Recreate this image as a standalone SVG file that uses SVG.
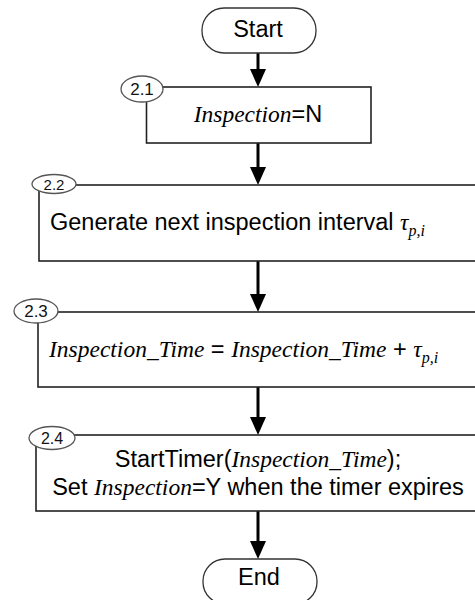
<svg xmlns="http://www.w3.org/2000/svg" width="475" height="600" viewBox="0 0 475 600">
<style>
.box{fill:#fff;stroke:#222;stroke-width:1.6}
.term{fill:#fff;stroke:#333;stroke-width:1.3}
.oval{fill:#fff;stroke:#555;stroke-width:1.3}
.sans{font-family:"Liberation Sans",Arial,sans-serif;font-size:23.5px;fill:#000}
.it{font-family:"Liberation Serif","Times New Roman",serif;font-style:italic;fill:#000}
.num{font-family:"Liberation Sans",Arial,sans-serif;fill:#111;text-anchor:middle}
.conn{stroke:#000;stroke-width:3;fill:none;marker-end:url(#ah)}
</style>
<defs>
<marker id="ah" viewBox="0 0 18 16" markerWidth="18" markerHeight="16" refX="8" refY="8" orient="auto" markerUnits="userSpaceOnUse">
<path d="M0,0 L18,8 L0,16 z" fill="#000"/>
</marker>
</defs>
<rect width="475" height="600" fill="#fff"/>
<g id="connectors">
<line class="conn" x1="258" y1="53" x2="258" y2="77"/>
<line class="conn" x1="258" y1="143" x2="258" y2="175"/>
<line class="conn" x1="258" y1="261" x2="258" y2="302"/>
<line class="conn" x1="258" y1="387" x2="258" y2="425"/>
<line class="conn" x1="258" y1="511" x2="258" y2="549"/>
</g>
<g id="start">
<rect class="term" x="202" y="8" width="114" height="45" rx="22" ry="22"/>
<text class="sans" x="258" y="37" text-anchor="middle">Start</text>
</g>
<g id="step21">
<rect class="box" x="146.5" y="87" width="224.5" height="56"/>
<ellipse class="oval" cx="142" cy="89" rx="21" ry="13"/>
<text class="num" x="142" y="95" font-size="17">2.1</text>
<text class="sans" x="258" y="122" text-anchor="middle"><tspan class="it">Inspection</tspan>=N</text>
</g>
<g id="step22">
<rect class="box" x="39" y="185" width="450" height="76"/>
<ellipse class="oval" cx="54" cy="184" rx="22" ry="9.5"/>
<text class="num" x="54" y="190" font-size="15">2.2</text>
<text class="sans" x="50" y="230">Generate next inspection interval <tspan class="it">τ</tspan><tspan class="it" font-size="16" dy="6">p,i</tspan></text>
</g>
<g id="step23">
<rect class="box" x="38" y="312" width="450" height="75"/>
<ellipse class="oval" cx="36" cy="311" rx="22" ry="12"/>
<text class="num" x="36" y="317" font-size="17">2.3</text>
<text class="sans" x="49" y="357"><tspan class="it">Inspection_Time</tspan> = <tspan class="it">Inspection_Time</tspan> + <tspan class="it">τ</tspan><tspan class="it" font-size="16" dy="6">p,i</tspan></text>
</g>
<g id="step24">
<rect class="box" x="36" y="435" width="450" height="76"/>
<ellipse class="oval" cx="52" cy="438" rx="23" ry="11.5"/>
<text class="num" x="52" y="444" font-size="16">2.4</text>
<text class="sans" x="258" y="467" text-anchor="middle">StartTimer(<tspan class="it">Inspection_Time</tspan>);</text>
<text class="sans" x="258" y="495" text-anchor="middle">Set <tspan class="it">Inspection</tspan>=Y when the timer expires</text>
</g>
<g id="end">
<rect class="term" x="203" y="559" width="114" height="45" rx="22" ry="22"/>
<text class="sans" x="259" y="585" text-anchor="middle">End</text>
</g>
</svg>
